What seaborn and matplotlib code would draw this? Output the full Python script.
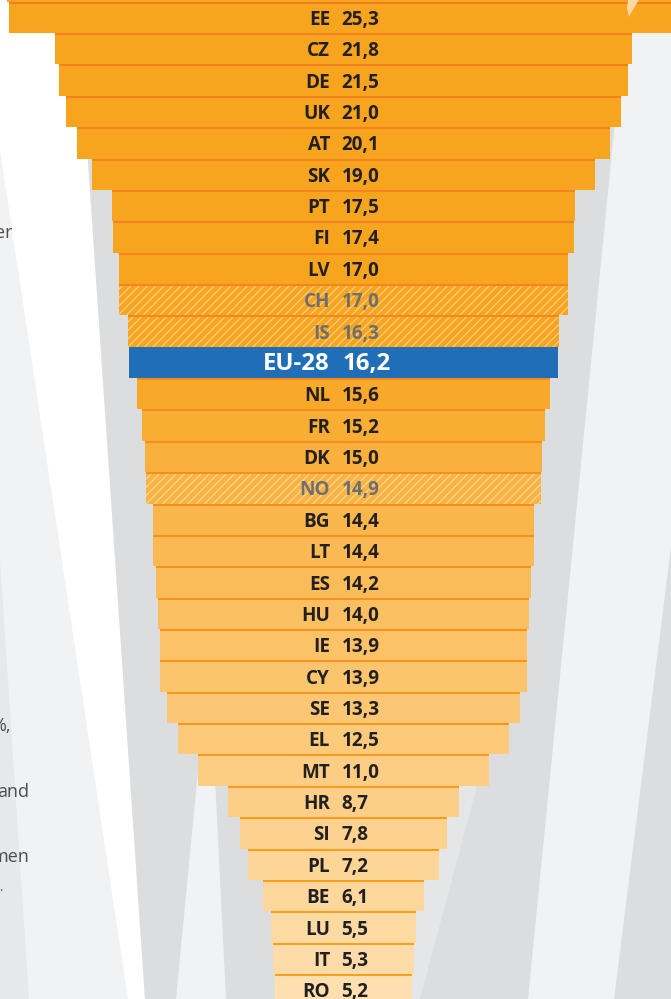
import numpy as np
import matplotlib.pyplot as plt
import seaborn as sns
from matplotlib.patches import Polygon, Rectangle
from matplotlib.colors import to_rgb, to_hex

# rows top to bottom; first one is the bar cut off by the top edge
codes = ["", "EE", "CZ", "DE", "UK", "AT", "SK", "PT", "FI", "LV", "CH", "IS", "EU-28",
         "NL", "FR", "DK", "NO", "BG", "LT", "ES", "HU", "IE", "CY", "SE", "EL", "MT",
         "HR", "SI", "PL", "BE", "LU", "IT", "RO"]
values = [25.4, 25.3, 21.8, 21.5, 21.0, 20.1, 19.0, 17.5, 17.4, 17.0, 17.0, 16.3, 16.2,
          15.6, 15.2, 15.0, 14.9, 14.4, 14.4, 14.2, 14.0, 13.9, 13.9, 13.3, 12.5, 11.0,
          8.7, 7.8, 7.2, 6.1, 5.5, 5.3, 5.2]
non_eu = ["CH", "IS", "NO"]
eu_avg = "EU-28"

W, H = 671, 999
ORANGE = "#F7A51E"
BLUE = "#1F6EB7"

plt.rcParams["hatch.linewidth"] = 0.8


def mix(c1, c2, t):
    a, b = np.array(to_rgb(c1)), np.array(to_rgb(c2))
    return to_hex(a + (b - a) * t)


n = len(codes)
i_nl = codes.index("NL")
fill = []
lines = []
for i, c in enumerate(codes):
    if c == eu_avg:
        fill.append(BLUE)
    elif i < i_nl:
        fill.append(ORANGE)
    else:
        fill.append(mix("#F8A92A", "#FEDFAF", ((i - i_nl) / (n - 1 - i_nl)) ** 0.9))
    lines.append(mix("#F37A20", "#F9A11C", i / (n - 1)))

fig = plt.figure(figsize=(W / 100, H / 100), dpi=100)
fig.patch.set_facecolor("#F1F2F4")
ax = fig.add_axes([0, 0, 1, 1])

sns.barplot(x=values, y=codes, hue=codes, palette=fill, width=1.0, saturation=1,
            legend=False, orient="h", errorbar=None, linewidth=0, ax=ax)

# centre every bar on zero to build the funnel
for p in ax.patches:
    if isinstance(p, Rectangle):
        p.set_x(-p.get_width() / 2)
        p.set_edgecolor("none")


def px(pts):
    return [(x / W, 1 - y / H) for x, y in pts]


# background shapes
bg = [
    ("#FFFFFF", [(0, 0), (77, 0), (145, 999), (128, 999), (0, 150)]),
    ("#E7E8EA", [(0, 560), (29, 999), (0, 999)]),
    ("#DCDDDF", [(77, 0), (627, 0), (528, 999), (145, 999)]),
    ("#F1F2F4", [(209, 657), (226, 999), (176, 999)]),
    ("#E5E6E8", [(470, 700), (500, 700), (420, 999), (395, 999)]),
    ("#DCDDDF", [(671, 547), (671, 999), (614, 999)]),
]
for col, pts in bg:
    ax.add_patch(Polygon(px(pts), closed=True, facecolor=col, edgecolor="none",
                         transform=ax.transAxes, zorder=-5))

vals = np.array(values)
rows = np.arange(n)

# hatched overlay for non-EU countries
for c in non_eu:
    i = codes.index(c)
    ax.barh(i, vals[i], left=-vals[i] / 2, height=1.0, facecolor="none",
            edgecolor=(1, 1, 1, 0.5), linewidth=0, hatch="////", zorder=3)

# darker line on top of each bar
mask = np.array([c != eu_avg for c in codes])
ax.hlines(rows[mask] - 0.5 + 0.032, -vals[mask] / 2, vals[mask] / 2,
          colors=np.array(lines)[mask], linewidth=1.45, zorder=4)

for i, (c, v) in enumerate(zip(codes, values)):
    if not c:
        continue
    txt = f"{v:.1f}".replace(".", ",")
    if c == eu_avg:
        kw = dict(fontsize=17.3, color="white")
        xl, xr = -0.51, -0.02
        yb = i + 0.25
    elif c in non_eu:
        kw = dict(fontsize=13.6, color="#6D6E71")
        xl, xr = -0.51, -0.08
        yb = i + 0.24
    else:
        kw = dict(fontsize=13.6, color="#231F20")
        xl, xr = -0.51, -0.08
        yb = i + 0.24
    ax.text(xl, yb, c, ha="right", va="baseline", fontweight="bold",
            family="Open Sans", zorder=5, **kw)
    ax.text(xr, yb, txt, ha="left", va="baseline", fontweight="bold",
            family="Open Sans", zorder=5, **kw)

# pale tip poking in at the top right
ax.add_patch(Polygon(px([(628, 0), (639, 0), (634, 8), (629, 17), (627, 9)]),
                     closed=True, facecolor="#FDD7A0", edgecolor="none",
                     transform=ax.transAxes, zorder=6))

# fragments of the paragraph cut off at the left edge
for s, x, y, fs in [("er", 12, 238, 13), ("%,", 11, 731, 13),
                    ("and", 29, 797, 13), ("men", 29, 862, 13), (".", 2, 891, 9)]:
    ax.text(x / W, 1 - y / H, s, transform=ax.transAxes, ha="right", va="baseline",
            fontsize=fs, color="#4D4D4F", family="Open Sans", zorder=5)

ax.set_xlim(-343.5 / 26.47, (W - 343.5) / 26.47)
ax.set_ylim(32.296, 0.445)
ax.set_axis_off()

fig.savefig("out.png", dpi=100, facecolor=fig.get_facecolor())
